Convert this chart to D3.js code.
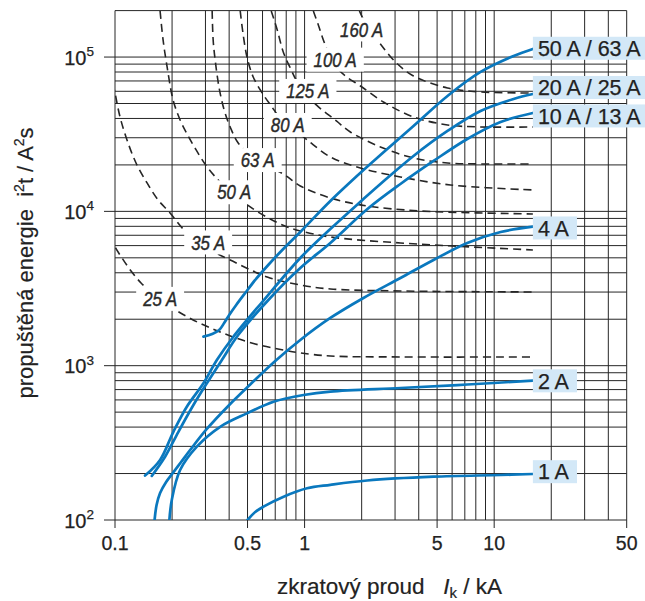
<!DOCTYPE html>
<html><head><meta charset="utf-8">
<script src="https://cdn.jsdelivr.net/npm/d3@7"></script>
<style>body{margin:0;background:#fff}svg{display:block}</style>
</head><body>
<svg id="c" width="645" height="601"></svg>
<script>
// ---------- data ----------
const xTicks = [0.1, 0.5, 1, 5, 10, 50];
const xTickLabels = ["0.1", "0.5", "1", "5", "10", "50"];
const yTicks = [1e2, 1e3, 1e4, 1e5];
const yTickExp = ["2", "3", "4", "5"];

// MCB let-through energy curves (I in kA, E in A²s)
const mcbNames = ["50 A / 63 A", "20 A / 25 A", "10 A / 13 A", "4 A", "2 A", "1 A"];
const mcb50I = [0.2927, 0.3254, 0.3543, 0.3765, 0.4003, 0.4358, 0.4862, 0.549, 0.643, 0.7717, 0.949, 1.3673, 2.018, 2.511, 3.753, 5.673, 8.476, 12.66, 16];
const mcb50E = [1542, 1606, 1703, 1891, 2131, 2475, 2960, 3593, 4494, 5706, 7355, 11680, 18270, 23210, 35770, 55970, 80050, 101600, 112800];
const mcb20I = [0.1441, 0.1729, 0.2032, 0.2392, 0.2927, 0.3446, 0.4201, 0.5976, 0.949, 1.367, 2.018, 2.511, 3.753, 5.673, 8.476, 12.66, 16];
const mcb20E = [194, 245, 373, 542, 769, 1089, 1535, 2586, 4989, 7691, 11860, 15050, 22860, 33200, 44750, 53520, 57640];
const mcb10I = [0.1563, 0.1837, 0.216, 0.2592, 0.3051, 0.3662, 0.4465, 0.6588, 0.949, 1.367, 2.145, 3.203, 4.787, 7.21, 10.81, 16];
const mcb10E = [193, 257, 373, 556, 769, 1089, 1581, 2747, 4298, 6241, 10360, 15050, 21220, 29460, 37960, 43430];
const mcb4I = [0.1617, 0.1657, 0.1729, 0.1861, 0.2, 0.2232, 0.249, 0.3051, 0.4051, 0.5167, 0.7001, 0.949, 1.367, 2.043, 3.203, 4.787, 7.21, 10.81, 16];
const mcb4E = [100, 125, 149.6, 176.3, 198.7, 237.6, 284, 388.9, 564.6, 755, 1073, 1468, 2038, 2747, 3702, 4842, 6241, 7355, 7960];
const mcb2I = [0.1936, 0.1993, 0.2205, 0.2702, 0.3587, 0.4963, 0.6858, 0.9879, 1.367, 3.203, 7.21, 16];
const mcb2E = [100, 135, 211, 299, 402, 491, 584, 646, 680, 717, 755, 800];
const mcb1I = [0.5, 0.549, 0.607, 0.775, 1.03, 1.367, 2.137, 4.787, 10.81, 16];
const mcb1E = [100, 112.7, 122, 141.6, 160.5, 169, 180.3, 190.8, 195.7, 198.7];
// label anchor energy (box centre) for each MCB curve
const mcbLabelE = [114000, 63500, 41530, 7806, 798, 205.6];

// Fuse total clearing I²t curves (dashed)
const fuseNames = ["160 A", "100 A", "125 A", "80 A", "63 A", "50 A", "35 A", "25 A"];
const fuse160I = [1.9458, 2.1184, 2.5114, 3.0139, 3.7527, 5.673, 8.476, 16];
const fuse160E = [199000, 161400, 121600, 92940, 75440, 63040, 59390, 58510];
const fuse100I = [1.112, 1.1817, 1.2558, 1.3504, 1.471, 1.6406, 1.9695, 2.6045, 3.7527, 5.673, 8.476, 16];
const fuse100E = [199000, 161400, 129100, 103200, 86280, 75440, 64940, 51170, 40910, 36310, 35240, 35240];
const fuse125I = [0.6669, 0.7175, 0.7717, 0.8404, 0.915, 1.0209, 1.1532, 1.471, 1.7431, 2.5114, 3.7527, 5.673, 8.476, 16];
const fuse125E = [199000, 149800, 107900, 85000, 68960, 57640, 48940, 38540, 32700, 26150, 22190, 20590, 20290, 20290];
const fuse80I = [0.4575, 0.4746, 0.4981, 0.5358, 0.5976, 0.6669, 0.744, 0.861, 1.0335, 1.3673, 1.9695, 3.2025, 5.884, 16];
const fuse80E = [199000, 139100, 98670, 74310, 58510, 48210, 40300, 34710, 29020, 22530, 19110, 16710, 14830, 13760];
const fuse63I = [0.3254, 0.3294, 0.3375, 0.3543, 0.3765, 0.4051, 0.4465, 0.549, 0.6588, 0.7717, 0.949, 1.3673, 2.1446, 4.0862, 16];
const fuse63E = [199000, 129100, 95760, 63040, 45420, 35240, 27760, 21540, 19110, 17480, 14610, 12210, 10840, 10060, 9619];
const fuse50I = [0.1729, 0.1793, 0.1883, 0.2025, 0.2205, 0.2401, 0.2679, 0.3062, 0.3587, 0.4305, 0.5167, 0.6588, 0.8102, 0.949, 1.3673, 3.2025, 16];
const fuse50E = [199000, 129100, 86280, 52720, 39120, 31700, 25000, 19400, 15510, 12770, 10680, 8929, 7925, 7464, 6825, 6241, 5622];
const fuse35I = [0.094, 0.1, 0.1063, 0.1157, 0.1291, 0.1476, 0.1688, 0.1952, 0.2287, 0.2647, 0.3175, 0.4051, 0.6353, 0.949, 1.3673, 3.2025, 16];
const fuse35E = [82000, 58510, 40910, 29020, 20590, 15280, 11860, 9763, 7691, 6527, 5622, 4842, 3758, 3334, 3141, 3049, 3004];
const fuse25I = [0.0941, 0.1, 0.1089, 0.1215, 0.1372, 0.1569, 0.1837, 0.2126, 0.2712, 0.3375, 0.4201, 0.549, 0.7717, 0.949, 1.3673, 3.2025, 16];
const fuse25E = [6927, 5880, 4989, 4108, 3436, 2960, 2548, 2262, 1920, 1703, 1535, 1382, 1264, 1209, 1156, 1139, 1139];
// label anchors (centre) for fuse curves, in kA / A²s
const fuseLabelI = [2.0, 1.45, 1.04, 0.815, 0.566, 0.425, 0.31, 0.173];
const fuseLabelE = [151000, 96200, 60300, 36300, 21500, 13300, 6290, 2710];

// ---------- drawing ----------
const svg = d3.select("#c");
const W = 645, H = 601;
const x = d3.scaleLog().domain([0.1, 50]).range([115, 626.7]);
const y = d3.scaleLog().domain([100, 2e5]).range([520, 10.6]);
const FONT = "'Liberation Sans', Arial, Helvetica, sans-serif";
const gridCol = "#262626";
const txtCol = "#222";

svg.append("rect").attr("width", W).attr("height", H).attr("fill", "#fff");

// grid values
const xGrid = [], yGrid = [];
[0.1, 1, 10].forEach(d => { for (let k = 1; k <= 9; k++) { const v = +(k * d).toPrecision(3); if (v <= 50) xGrid.push(v); } });
[100, 1000, 10000, 100000].forEach(d => { for (let k = 1; k <= 9; k++) { const v = k * d; if (v <= 2e5) yGrid.push(v); } });

const g = svg.append("g");
g.selectAll("line.vx").data(xGrid).join("line")
  .attr("x1", d => x(d)).attr("x2", d => x(d))
  .attr("y1", y(2e5)).attr("y2", y(100))
  .attr("stroke", gridCol).attr("stroke-width", 1);
g.selectAll("line.hy").data(yGrid).join("line")
  .attr("x1", x(0.1)).attr("x2", x(50))
  .attr("y1", d => y(d)).attr("y2", d => y(d))
  .attr("stroke", gridCol).attr("stroke-width", 1);

// axis tick marks
g.selectAll("line.xt").data(xTicks).join("line")
  .attr("x1", d => x(d)).attr("x2", d => x(d))
  .attr("y1", y(100)).attr("y2", y(100) + 8)
  .attr("stroke", gridCol);
g.selectAll("line.yt").data(yTicks).join("line")
  .attr("x1", x(0.1) - 11).attr("x2", x(0.1))
  .attr("y1", d => y(d)).attr("y2", d => y(d))
  .attr("stroke", gridCol);

// clip
svg.append("clipPath").attr("id", "plot").append("rect")
  .attr("x", x(0.1)).attr("y", y(2e5)).attr("width", x(50) - x(0.1)).attr("height", y(100) - y(2e5));

const line = d3.line().x(d => x(d[0])).y(d => y(d[1])).curve(d3.curveCatmullRom.alpha(0.5));
const zip = (a, b) => a.map((v, i) => [v, b[i]]);

// fuse curves
const fuseI = [fuse160I, fuse100I, fuse125I, fuse80I, fuse63I, fuse50I, fuse35I, fuse25I];
const fuseE = [fuse160E, fuse100E, fuse125E, fuse80E, fuse63E, fuse50E, fuse35E, fuse25E];
const fg = svg.append("g").attr("clip-path", "url(#plot)");
fuseNames.forEach((n, i) => {
  fg.append("path").attr("d", line(zip(fuseI[i], fuseE[i])))
    .attr("fill", "none").attr("stroke", "#262626").attr("stroke-width", 1.6)
    .attr("stroke-dasharray", "8,5");
});

// fuse labels
fuseNames.forEach((n, i) => {
  const lg = svg.append("g").attr("transform", `translate(${x(fuseLabelI[i])},${y(fuseLabelE[i])})`);
  const r = lg.append("rect").attr("fill", "#fff");
  const t = lg.append("text").text(n)
    .attr("font-family", FONT).attr("font-style", "italic").attr("font-size", 20)
    .attr("fill", "#2a2a2a").attr("stroke", "#2a2a2a").attr("stroke-width", 0.45)
    .attr("text-anchor", "middle")
    .attr("transform", "scale(0.84,1)").attr("y", 7.2);
  const w = t.node().getComputedTextLength() * 0.84;
  r.attr("x", -w / 2 - 7).attr("width", w + 14).attr("y", -12).attr("height", 24);
});

// MCB curves
const mcbI = [mcb50I, mcb20I, mcb10I, mcb4I, mcb2I, mcb1I];
const mcbE = [mcb50E, mcb20E, mcb10E, mcb4E, mcb2E, mcb1E];
const bg = svg.append("g").attr("clip-path", "url(#plot)");
mcbNames.forEach((n, i) => {
  bg.append("path").attr("d", line(zip(mcbI[i], mcbE[i])))
    .attr("fill", "none").attr("stroke", "#0a78be").attr("stroke-width", 2.7)
    .attr("stroke-linecap", "round");
});

// MCB labels
mcbNames.forEach((n, i) => {
  const I = mcbI[i], x0 = x(I[I.length - 1]), yc = y(mcbLabelE[i]);
  const r = svg.append("rect").attr("fill", "#d3e8f7");
  const t = svg.append("text").text(n)
    .attr("x", x0 + 5).attr("y", yc + 7.7)
    .attr("font-family", FONT).attr("font-size", 21.5).attr("fill", txtCol)
    .attr("stroke", txtCol).attr("stroke-width", 0.25);
  const w = t.node().getComputedTextLength();
  r.attr("x", x0).attr("y", yc - 11.5).attr("width", w + 13).attr("height", 23);
  t.raise();
});

// tick labels
svg.selectAll("text.xl").data(xTicks).join("text")
  .attr("x", d => x(d)).attr("y", 550)
  .attr("text-anchor", "middle").attr("font-family", FONT).attr("font-size", 19.5)
  .attr("fill", txtCol).attr("stroke", txtCol).attr("stroke-width", 0.25)
  .text((d, i) => xTickLabels[i]);
yTicks.forEach((v, i) => {
  const t = svg.append("text").attr("x", 94).attr("y", y(v) + 7.5)
    .attr("text-anchor", "end").attr("font-family", FONT).attr("font-size", 20)
    .attr("fill", txtCol).attr("stroke", txtCol).attr("stroke-width", 0.25);
  t.append("tspan").text("10");
  t.append("tspan").attr("dy", -8.5).attr("font-size", 13.5).text(yTickExp[i]);
});

// axis titles
const xt = svg.append("text").attr("x", 277).attr("y", 594)
  .attr("font-family", FONT).attr("font-size", 22.5).attr("fill", txtCol)
  .attr("stroke", txtCol).attr("stroke-width", 0.2)
  .style("white-space", "pre");
xt.append("tspan").text("zkratový proud   ");
xt.append("tspan").attr("font-style", "italic").text("I");
xt.append("tspan").attr("font-size", 15).attr("dy", 4).text("k");
xt.append("tspan").attr("dy", -4).text(" / kA");

const yt = svg.append("text").attr("transform", "translate(33,263) rotate(-90)")
  .attr("text-anchor", "middle")
  .attr("font-family", FONT).attr("font-size", 22).attr("fill", txtCol)
  .attr("stroke", txtCol).attr("stroke-width", 0.2)
  .style("white-space", "pre");
yt.append("tspan").text("propuštěná energie  i");
yt.append("tspan").attr("font-size", 14).attr("dy", -9).text("2");
yt.append("tspan").attr("dy", 9).text("t / A");
yt.append("tspan").attr("font-size", 14).attr("dy", -9).text("2");
yt.append("tspan").attr("dy", 9).text("s");
</script>
</body></html>
